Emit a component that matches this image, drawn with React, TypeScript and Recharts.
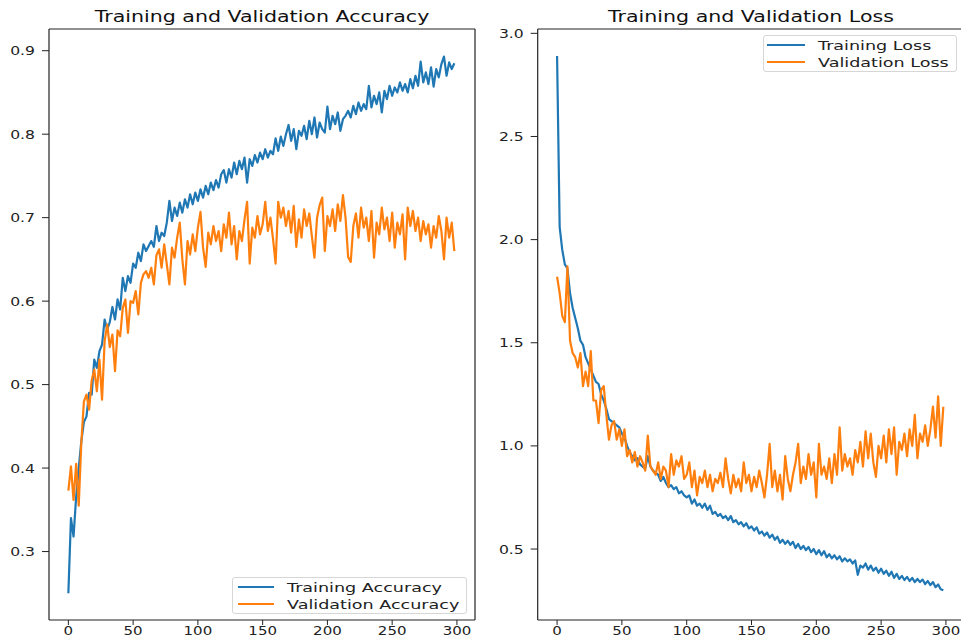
import { Legend, Line, LineChart, XAxis, YAxis } from "recharts";

// values, one point every 2 epochs (0..298)
const trainAcc = [
  0.250, 0.340, 0.318, 0.365, 0.400, 0.432, 0.455, 0.462, 0.490, 0.488,
  0.530, 0.520, 0.540, 0.548, 0.578, 0.566, 0.575, 0.593, 0.578, 0.602,
  0.590, 0.628, 0.612, 0.630, 0.622, 0.645, 0.640, 0.658, 0.648, 0.668,
  0.660, 0.666, 0.672, 0.665, 0.690, 0.672, 0.682, 0.678, 0.694, 0.720,
  0.696, 0.712, 0.702, 0.718, 0.706, 0.722, 0.712, 0.728, 0.716, 0.730,
  0.720, 0.734, 0.724, 0.738, 0.728, 0.742, 0.733, 0.745, 0.736, 0.752,
  0.757, 0.742, 0.758, 0.748, 0.766, 0.752, 0.768, 0.758, 0.772, 0.742,
  0.770, 0.762, 0.775, 0.766, 0.778, 0.770, 0.782, 0.772, 0.780, 0.776,
  0.795, 0.780, 0.797, 0.786, 0.800, 0.811, 0.792, 0.806, 0.782, 0.804,
  0.798, 0.810, 0.794, 0.816, 0.800, 0.820, 0.796, 0.814, 0.806, 0.802,
  0.833, 0.806, 0.822, 0.812, 0.826, 0.804, 0.818, 0.822, 0.828, 0.820,
  0.834, 0.824, 0.838, 0.828, 0.836, 0.830, 0.858, 0.832, 0.846, 0.836,
  0.850, 0.826, 0.852, 0.842, 0.858, 0.846, 0.856, 0.850, 0.862, 0.852,
  0.860, 0.850, 0.866, 0.855, 0.870, 0.858, 0.887, 0.862, 0.874, 0.860,
  0.880, 0.857, 0.878, 0.868, 0.884, 0.893, 0.870, 0.886, 0.878, 0.885,
];

const valAcc = [
  0.373, 0.402, 0.362, 0.405, 0.355, 0.430, 0.480, 0.488, 0.470, 0.505,
  0.518, 0.492, 0.530, 0.482, 0.552, 0.572, 0.545, 0.560, 0.516, 0.565,
  0.558, 0.592, 0.602, 0.562, 0.600, 0.598, 0.612, 0.584, 0.622, 0.632,
  0.636, 0.628, 0.640, 0.620, 0.655, 0.662, 0.640, 0.668, 0.644, 0.620,
  0.664, 0.652, 0.676, 0.694, 0.650, 0.620, 0.672, 0.656, 0.680, 0.660,
  0.688, 0.707, 0.664, 0.641, 0.682, 0.668, 0.690, 0.672, 0.684, 0.660,
  0.692, 0.676, 0.706, 0.668, 0.690, 0.650, 0.684, 0.672, 0.698, 0.719,
  0.645, 0.688, 0.676, 0.702, 0.680, 0.692, 0.719, 0.684, 0.700, 0.675,
  0.645, 0.719, 0.700, 0.712, 0.690, 0.708, 0.682, 0.714, 0.665, 0.698,
  0.676, 0.710, 0.690, 0.705, 0.678, 0.652, 0.700, 0.715, 0.724, 0.660,
  0.702, 0.690, 0.710, 0.684, 0.716, 0.696, 0.727, 0.700, 0.653, 0.647,
  0.690, 0.705, 0.676, 0.712, 0.688, 0.700, 0.672, 0.708, 0.652, 0.694,
  0.680, 0.712, 0.686, 0.700, 0.672, 0.706, 0.664, 0.694, 0.680, 0.704,
  0.650, 0.712, 0.690, 0.708, 0.684, 0.700, 0.672, 0.696, 0.680, 0.692,
  0.664, 0.690, 0.676, 0.702, 0.684, 0.650, 0.700, 0.676, 0.694, 0.660,
];

const trainLoss = [
  2.890, 2.060, 1.950, 1.880, 1.860, 1.740, 1.670, 1.620, 1.570, 1.510,
  1.490, 1.430, 1.400, 1.370, 1.340, 1.310, 1.300, 1.250, 1.220, 1.180,
  1.130, 1.120, 1.110, 1.100, 1.090, 1.060, 1.040, 1.000, 0.970, 0.950,
  0.930, 0.940, 0.910, 0.900, 0.890, 0.950, 0.900, 0.880, 0.870, 0.860,
  0.830, 0.850, 0.820, 0.800, 0.810, 0.790, 0.800, 0.770, 0.780, 0.760,
  0.750, 0.760, 0.720, 0.740, 0.710, 0.720, 0.700, 0.720, 0.690, 0.710,
  0.670, 0.680, 0.660, 0.670, 0.650, 0.660, 0.640, 0.660, 0.630, 0.640,
  0.620, 0.630, 0.610, 0.625, 0.600, 0.610, 0.590, 0.605, 0.575, 0.585,
  0.565, 0.580, 0.555, 0.570, 0.545, 0.560, 0.530, 0.545, 0.525, 0.540,
  0.520, 0.535, 0.505, 0.525, 0.500, 0.515, 0.495, 0.510, 0.485, 0.500,
  0.475, 0.495, 0.470, 0.490, 0.460, 0.475, 0.455, 0.470, 0.450, 0.465,
  0.440, 0.455, 0.440, 0.450, 0.430, 0.445, 0.375, 0.420, 0.410, 0.430,
  0.400, 0.420, 0.395, 0.410, 0.385, 0.405, 0.380, 0.395, 0.370, 0.390,
  0.360, 0.380, 0.355, 0.370, 0.350, 0.365, 0.345, 0.360, 0.340, 0.355,
  0.340, 0.352, 0.330, 0.345, 0.325, 0.340, 0.315, 0.328, 0.305, 0.300,
];

const valLoss = [
  1.820, 1.740, 1.630, 1.600, 1.870, 1.510, 1.450, 1.430, 1.380, 1.450,
  1.290, 1.360, 1.290, 1.460, 1.220, 1.220, 1.110, 1.270, 1.290, 1.150,
  1.030, 1.100, 1.120, 1.030, 1.080, 1.000, 1.080, 0.950, 0.980, 0.920,
  0.970, 0.900, 0.950, 0.920, 0.880, 1.050, 0.900, 0.880, 0.860, 0.920,
  0.840, 0.900, 0.880, 0.800, 0.960, 0.860, 0.930, 0.900, 0.950, 0.840,
  0.860, 0.920, 0.800, 0.880, 0.760, 0.850, 0.820, 0.880, 0.800, 0.860,
  0.780, 0.840, 0.820, 0.870, 0.800, 0.940, 0.840, 0.770, 0.860, 0.800,
  0.840, 0.780, 0.920, 0.820, 0.860, 0.780, 0.850, 0.800, 0.880, 0.820,
  0.750, 0.860, 1.010, 0.800, 0.880, 0.780, 0.860, 0.740, 0.950, 0.840,
  0.780, 0.860, 0.920, 1.010, 0.820, 0.900, 0.840, 0.960, 0.860, 0.920,
  0.750, 1.010, 0.860, 0.900, 0.840, 0.940, 0.820, 0.960, 0.860, 1.090,
  0.880, 0.960, 0.900, 0.940, 0.860, 0.980, 0.920, 1.020, 0.900, 1.070,
  0.940, 1.060, 0.920, 0.850, 1.000, 0.940, 1.050, 0.920, 1.080, 0.960,
  1.090, 0.860, 1.020, 0.980, 1.060, 0.950, 1.080, 1.000, 1.150, 0.940,
  1.060, 1.020, 1.100, 1.000, 1.080, 1.190, 1.040, 1.240, 1.000, 1.190,
];

const epochTicks = [0, 50, 100, 150, 200, 250, 300];
const accTicks = [0.3, 0.4, 0.5, 0.6, 0.7, 0.8, 0.9];
const lossTicks = [0.5, 1.0, 1.5, 2.0, 2.5, 3.0];

const BLUE = "#1f77b4";
const ORANGE = "#ff7f0e";
const INK = "#222";
const FONT = '"DejaVu Sans", sans-serif';
const X_DOMAIN = [-14.95, 313.95];

const accData = trainAcc.map((v, i) => ({ epoch: i * 2, train: v, val: valAcc[i] }));
const lossData = trainLoss.map((v, i) => ({ epoch: i * 2, train: v, val: valLoss[i] }));

function XTick({ x, y, payload }: any) {
  return (
    <g transform={`translate(${x},${y})`}>
      <text transform="scale(1.25,1)" textAnchor="middle" dy="0.71em" fontSize={12} fill={INK} fontFamily={FONT}>
        {payload.value}
      </text>
    </g>
  );
}

function YTick({ x, y, payload }: any) {
  return (
    <g transform={`translate(${x},${y})`}>
      <text transform="scale(1.25,1)" textAnchor="end" dy="0.36em" fontSize={12.5} fill={INK} fontFamily={FONT}>
        {Number(payload.value).toFixed(1)}
      </text>
    </g>
  );
}

function LegendBox({ payload, boxWidth, lineX, lineW }: any) {
  return (
    <div
      style={{
        width: boxWidth,
        height: 37,
        boxSizing: "border-box",
        border: "1px solid #d6d6d6",
        borderRadius: 3,
        background: "rgba(255,255,255,0.85)",
        paddingTop: 0.5,
      }}
    >
      {(payload ?? []).map((p: any) => (
        <div key={p.value} style={{ height: 17, display: "flex", alignItems: "center" }}>
          <div style={{ marginLeft: lineX, width: lineW, height: 2, background: p.color }} />
          <span
            style={{
              marginLeft: 13,
              fontSize: 13,
              lineHeight: "17px",
              fontFamily: FONT,
              color: INK,
              whiteSpace: "nowrap",
              display: "inline-block",
              transform: "scaleX(1.35)",
              transformOrigin: "left center",
            }}
          >
            {p.value}
          </span>
        </div>
      ))}
    </div>
  );
}

function Panel({ data, yDomain, yTicks, names, margin, legend }: any) {
  const axisStyle = { stroke: INK, strokeWidth: 1.2 };
  return (
    <LineChart width={480} height={638} data={data} margin={margin}>
      <XAxis
        dataKey="epoch"
        type="number"
        domain={X_DOMAIN}
        ticks={epochTicks}
        interval={0}
        allowDataOverflow
        height={18}
        tickSize={5}
        tickMargin={1}
        axisLine={axisStyle}
        tickLine={{ stroke: INK }}
        tick={<XTick />}
      />
      {/* top and right spines */}
      <XAxis
        xAxisId="top"
        orientation="top"
        type="number"
        domain={X_DOMAIN}
        allowDataOverflow
        height={1}
        tick={false}
        tickLine={false}
        axisLine={axisStyle}
      />
      <YAxis
        type="number"
        domain={yDomain}
        ticks={yTicks}
        interval={0}
        allowDataOverflow
        width={40}
        tickSize={7}
        tickMargin={7}
        axisLine={axisStyle}
        tickLine={{ stroke: INK }}
        tick={<YTick />}
      />
      <YAxis
        yAxisId="right"
        orientation="right"
        type="number"
        domain={yDomain}
        allowDataOverflow
        width={1}
        tick={false}
        tickLine={false}
        axisLine={axisStyle}
      />
      <Line
        type="linear"
        dataKey="train"
        name={names[0]}
        stroke={BLUE}
        strokeWidth={2.2}
        strokeLinejoin="round"
        dot={false}
        isAnimationActive={false}
      />
      <Line
        type="linear"
        dataKey="val"
        name={names[1]}
        stroke={ORANGE}
        strokeWidth={2.2}
        strokeLinejoin="round"
        dot={false}
        isAnimationActive={false}
      />
      <Legend
        layout="horizontal"
        verticalAlign="middle"
        align="center"
        width={legend.boxWidth}
        height={37}
        wrapperStyle={{ left: legend.left, top: legend.top, width: legend.boxWidth, height: 37 }}
        content={(props: any) => <LegendBox {...props} {...legend} />}
      />
    </LineChart>
  );
}

const titleStyle = {
  position: "absolute" as const,
  top: 10,
  fontFamily: FONT,
  fontSize: 15,
  lineHeight: "15px",
  color: "#111",
  whiteSpace: "nowrap" as const,
  transform: "translateX(-50%) scaleX(1.37)",
};

export default function App() {
  return (
    <div
      style={{
        position: "fixed",
        left: 0,
        top: 0,
        width: 961,
        height: 638,
        overflow: "hidden",
        background: "#fff",
      }}
    >
      <div style={{ position: "absolute", left: 0, top: 0 }}>
        <Panel
          data={accData}
          yDomain={[0.218, 0.926]}
          yTicks={accTicks}
          names={["Training Accuracy", "Validation Accuracy"]}
          margin={{ top: 28, right: 4, bottom: 0, left: 9 }}
          legend={{ left: 232, top: 577, boxWidth: 235, lineX: 5, lineW: 36 }}
        />
      </div>
      <div style={{ position: "absolute", left: 490, top: 0 }}>
        <Panel
          data={lossData}
          yDomain={[0.156, 3.021]}
          yTicks={lossTicks}
          names={["Training Loss", "Validation Loss"]}
          margin={{ top: 28, right: 5, bottom: 0, left: 7.7 }}
          legend={{ left: 273, top: 35, boxWidth: 194, lineX: 3, lineW: 38 }}
        />
      </div>
      <div style={{ ...titleStyle, left: 262 }}>Training and Validation Accuracy</div>
      <div style={{ ...titleStyle, left: 750.8 }}>Training and Validation Loss</div>
    </div>
  );
}
